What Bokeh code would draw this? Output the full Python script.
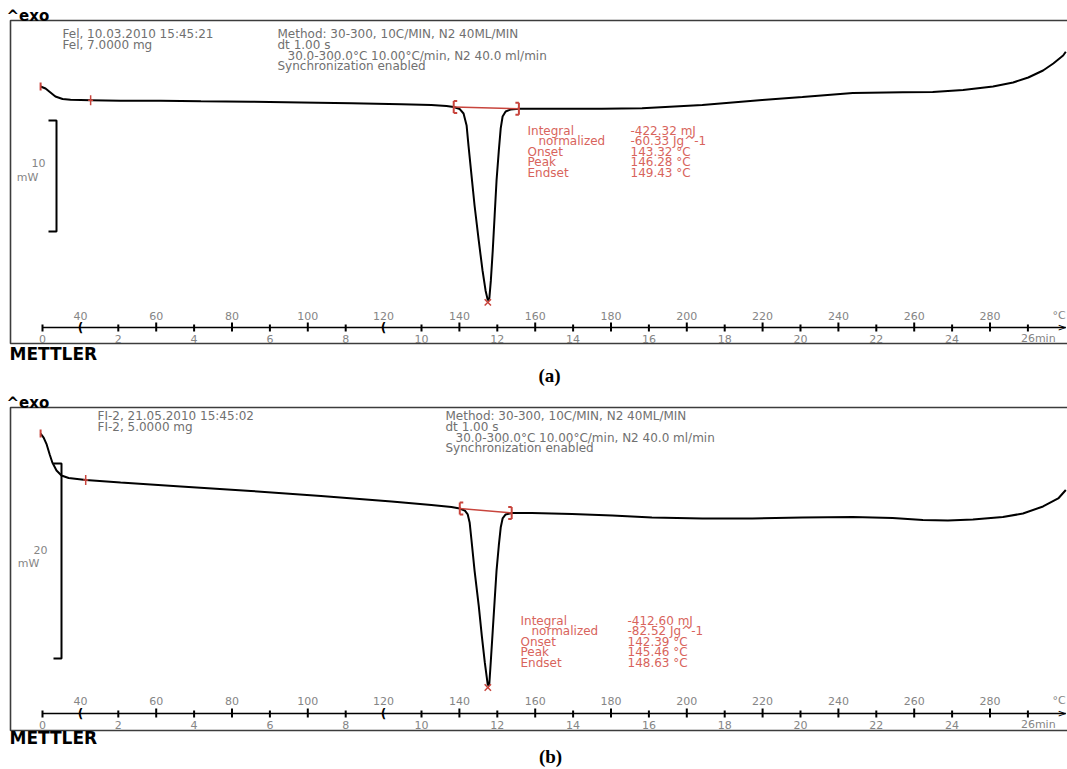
import numpy as np
from bokeh.plotting import figure
from bokeh.layouts import column
from bokeh.models import Range1d
from bokeh.core.properties import value
from bokeh.embed import file_html
from bokeh.resources import INLINE

# ---------------- data ----------------
# (a) Fel, 7.0000 mg : sample temperature (degC) vs heat flow (mW)
temp_a = [29.5, 30.8, 32.1, 33.4, 35.3, 37.4, 42.7, 50.6, 61.2, 71.8, 85.0, 98.3, 111.5, 124.7,
          132.6, 136.6, 138.5, 140.1, 141.1, 141.9, 142.4, 143.2, 144.0, 145.1, 146.1, 146.9,
          147.5, 147.9, 148.3, 148.8, 149.3, 149.8, 150.4, 150.9, 151.4, 152.2, 153.5, 155.7,
          167.0, 177.6, 188.2, 204.1, 219.9, 230.5, 243.8, 257.0, 264.9, 272.9, 280.8, 286.1,
          290.1, 294.0, 296.7, 299.3, 300.0]
hf_a = [0.27, 0.09, -0.27, -0.63, -0.86, -0.93, -0.96, -1.01, -1.01, -1.06, -1.10, -1.17, -1.24,
        -1.33, -1.40, -1.49, -1.58, -1.76, -2.16, -3.24, -5.05, -7.75, -10.45, -13.6, -16.3,
        -18.1, -19.0, -18.8, -17.2, -14.5, -11.35, -8.2, -5.5, -3.5, -2.43, -1.98, -1.80, -1.74,
        -1.74, -1.74, -1.69, -1.40, -0.95, -0.68, -0.32, -0.25, -0.23, -0.05, 0.27, 0.63, 1.08,
        1.71, 2.34, 3.06, 3.4]

# (b) FI-2, 5.0000 mg
temp_b = [29.5, 30.3, 31.1, 31.9, 32.6, 33.7, 35.0, 36.9, 41.4, 50.6, 66.5, 85.0, 103.5, 122.1,
          132.6, 137.9, 140.1, 141.4, 142.2, 142.7, 143.2, 144.0, 145.1, 145.9, 146.7, 147.5,
          147.9, 148.3, 148.8, 149.3, 149.8, 150.4, 150.9, 151.4, 152.2, 153.8, 159.1, 169.7,
          180.3, 190.8, 204.1, 217.3, 230.5, 243.8, 254.3, 262.3, 268.9, 275.5, 283.4, 288.7,
          294.0, 298.0, 300.0]
hf_b = [3.79, 3.38, 2.67, 1.64, 0.82, 0.0, -0.51, -0.77, -0.97, -1.23, -1.64, -2.10, -2.62, -3.18,
        -3.54, -3.74, -3.90, -4.10, -4.51, -5.33, -7.18, -10.26, -13.85, -16.92, -19.69, -22.05,
        -21.85, -19.49, -16.41, -13.33, -10.26, -7.69, -5.85, -4.92, -4.51, -4.36, -4.36, -4.46,
        -4.62, -4.82, -4.92, -4.92, -4.82, -4.77, -4.87, -5.08, -5.13, -5.03, -4.77, -4.41,
        -3.69, -2.87, -2.0]

start_a, plus_a, limits_a = 29.5, 42.7, [138.5, 155.7]
start_b, plus_b, limits_b = 29.5, 41.4, [140.1, 153.8]

header_left_a = ["Fel, 10.03.2010 15:45:21", "Fel, 7.0000 mg"]
header_left_b = ["FI-2, 21.05.2010 15:45:02", "FI-2, 5.0000 mg"]
header_method = ["Method: 30-300, 10C/MIN, N2 40ML/MIN", "dt 1.00 s",
                 "30.0-300.0°C 10.00°C/min, N2 40.0 ml/min", "Synchronization enabled"]

ann_labels = ["Integral", "normalized", "Onset", "Peak", "Endset"]
ann_values_a = ["-422.32 mJ", "-60.33 Jg^-1", "143.32 °C", "146.28 °C", "149.43 °C"]
ann_values_b = ["-412.60 mJ", "-82.52 Jg^-1", "142.39 °C", "145.46 °C", "148.63 °C"]

temp_ticks = [40, 60, 80, 100, 120, 140, 160, 180, 200, 220, 240, 260, 280]
time_ticks = [0, 2, 4, 6, 8, 10, 12, 14, 16, 18, 20, 22, 24, 26]
segment_marks = [40, 120]
scale_bar_a = 10
scale_bar_b = 20

# ---------------- layout ----------------
W = 1067
X0_PX, PX_PER_C = 42, 3.79
T_START, T_END, RATE = 30, 300, 10
RED = "#c8443c"
RED_TXT = "#d8645c"
GRAY_TXT = "#707070"
TICK_TXT = "#858585"
FONT = value("DejaVu Sans")


def tx(px):
    return T_START + (px - X0_PX) / PX_PER_C


LA = dict(top=0, height=388, y0=89, ppm=11.1, box_left=10, box_top=20, box_bottom=343,
          axis_y=327, temp_lbl_y=315, time_lbl_y=338, exo_y=15, header_y=33.5,
          hdr_left_x=62, hdr_right_x=277, bar_x=56, bar_top=120, bar_lbl=((38, 162), (27, 177)),
          ann_x=527, ann_val_x=630, ann_y=130, mettler_y=353, cap_x=549, cap_y=375, cap="(a)")
LB = dict(top=388, height=381, y0=470, ppm=9.75, box_left=10, box_top=407, box_bottom=730,
          axis_y=713, temp_lbl_y=700, time_lbl_y=724, exo_y=402, header_y=415.5,
          hdr_left_x=97, hdr_right_x=445, bar_x=61, bar_top=463, bar_lbl=((40, 549), (28, 563)),
          ann_x=520, ann_val_x=627, ann_y=620, mettler_y=737, cap_x=550, cap_y=756, cap="(b)")


def panel(temps, hf, start_t, plus_t, limits, hdr_left, ann_values, bar_mw, L):
    top, h, y0, ppm = L["top"], L["height"], L["y0"], L["ppm"]

    def ty(py):
        return (y0 - py) / ppm

    def dy(px):
        return px / ppm

    def dx(px):
        return px / PX_PER_C

    p = figure(width=W, height=h, x_range=Range1d(tx(0), tx(W)),
               y_range=Range1d(ty(top + h), ty(top)), x_axis_type=None, y_axis_type=None,
               toolbar_location=None, output_backend="svg", min_border=0,
               outline_line_color=None, background_fill_color="white",
               border_fill_color="white")
    p.grid.visible = False

    # frame box (open on the right)
    bl, br = tx(L["box_left"]), tx(W + 10)
    bt, bb = ty(L["box_top"]), ty(L["box_bottom"])
    p.line([br, bl, bl, br], [bt, bt, bb, bb], line_color="#3c3c3c", line_width=1.6)

    # built-in temperature / time axis
    ay = ty(L["axis_y"])
    p.line([T_START, T_END], [ay, ay], line_color="black", line_width=1.5)
    tt = [t for t in temp_ticks if t not in segment_marks]
    p.segment(x0=tt, y0=[ay + dy(5)] * len(tt), x1=tt, y1=[ay - dy(4)] * len(tt),
              line_color="black", line_width=2)
    tm = [T_START + RATE * m for m in time_ticks]
    p.segment(x0=tm, y0=[ay + dy(3)] * len(tm), x1=tm, y1=[ay - dy(4)] * len(tm),
              line_color="black", line_width=2)
    p.text(x=segment_marks, y=[ay] * len(segment_marks), text=["("] * len(segment_marks),
           text_font=FONT, text_font_size="12px", text_font_style="bold",
           text_align="center", text_baseline="middle", text_color="black")
    p.text(x=[T_END], y=[ay], text=[">"], text_font=FONT, text_font_size="11px",
           text_align="right", text_baseline="middle", text_color="black", x_offset=1)

    p.text(x=temp_ticks, y=[ty(L["temp_lbl_y"])] * len(temp_ticks),
           text=[str(t) for t in temp_ticks], text_font=FONT, text_font_size="11px",
           text_align="center", text_baseline="middle", text_color=TICK_TXT)
    p.text(x=[T_END], y=[ty(L["temp_lbl_y"])], text=["°C"], text_font=FONT,
           text_font_size="11px", text_align="right", text_baseline="middle",
           text_color=TICK_TXT, x_offset=0)
    tl = time_ticks[:-1]
    p.text(x=[T_START + RATE * m for m in tl], y=[ty(L["time_lbl_y"])] * len(tl),
           text=[str(m) for m in tl], text_font=FONT, text_font_size="11px",
           text_align="center", text_baseline="middle", text_color=TICK_TXT)
    p.text(x=[T_START + RATE * time_ticks[-1]], y=[ty(L["time_lbl_y"])],
           text=[f"{time_ticks[-1]}min"], text_font=FONT, text_font_size="11px",
           text_align="left", text_baseline="middle", text_color=TICK_TXT, x_offset=-7)

    # scale bar
    bx, bs = tx(L["bar_x"]), tx(L["bar_x"] - 8)
    btop = ty(L["bar_top"])
    bbot = btop - bar_mw
    p.line([bs, bx, bx, bs], [btop, btop, bbot, bbot], line_color="black", line_width=2)
    (lx1, ly1), (lx2, ly2) = L["bar_lbl"]
    p.text(x=[tx(lx1), tx(lx2)], y=[ty(ly1), ty(ly2)], text=[str(bar_mw), "mW"],
           text_font=FONT, text_font_size="11px", text_align="center",
           text_baseline="middle", text_color=TICK_TXT)

    # DSC curve
    p.line(temps, hf, line_color="black", line_width=2)

    # evaluation markers
    hs = float(np.interp(start_t, temps, hf))
    p.segment(x0=[start_t], y0=[hs - dy(4)], x1=[start_t], y1=[hs + dy(4)],
              line_color=RED, line_width=2)
    hp = float(np.interp(plus_t, temps, hf))
    p.segment(x0=[plus_t, plus_t - dx(2.5)], y0=[hp - dy(5), hp],
              x1=[plus_t, plus_t + dx(2.5)], y1=[hp + dy(5), hp],
              line_color=RED, line_width=1.5)
    hl = [float(v) for v in np.interp(limits, temps, hf)]
    p.line(limits, hl, line_color=RED, line_width=1.5)
    for lim, hv, sgn in zip(limits, hl, (1, -1)):
        p.segment(x0=[lim, lim, lim], y0=[hv - dy(6), hv + dy(6), hv - dy(6)],
                  x1=[lim, lim + sgn * dx(3.5), lim + sgn * dx(3.5)],
                  y1=[hv + dy(6), hv + dy(6), hv - dy(6)],
                  line_color=RED, line_width=2)
    i = int(np.argmin(hf))
    p.scatter([temps[i]], [hf[i] - dy(2)], marker="x", size=9, line_color=RED, line_width=1.5)

    # evaluation results
    n = len(ann_labels)
    ys = [ty(L["ann_y"] + 10.6 * k) for k in range(n)]
    p.text(x=[tx(L["ann_x"])] * n, y=ys, text=ann_labels, x_offset=[0, 11, 0, 0, 0],
           text_font=FONT, text_font_size="12px", text_align="left",
           text_baseline="middle", text_color=RED_TXT)
    p.text(x=[tx(L["ann_val_x"])] * n, y=ys, text=ann_values, text_font=FONT,
           text_font_size="12px", text_align="left", text_baseline="middle",
           text_color=RED_TXT)

    # header texts
    hy = [ty(L["header_y"] + 10.8 * k) for k in range(len(header_method))]
    p.text(x=[tx(L["hdr_left_x"])] * len(hdr_left), y=hy[:len(hdr_left)], text=hdr_left,
           text_font=FONT, text_font_size="12px", text_align="left",
           text_baseline="middle", text_color=GRAY_TXT)
    p.text(x=[tx(L["hdr_right_x"])] * len(header_method), y=hy, text=header_method,
           x_offset=[0, 0, 10, 0], text_font=FONT, text_font_size="12px",
           text_align="left", text_baseline="middle", text_color=GRAY_TXT)

    # labels outside the box
    p.text(x=[tx(6)], y=[ty(L["exo_y"])], text=["^exo"], text_font=FONT,
           text_font_size="15px", text_font_style="bold", text_align="left",
           text_baseline="alphabetic", text_color="black")
    p.text(x=[tx(9)], y=[ty(L["mettler_y"])], text=["METTLER"], text_font=FONT,
           text_font_size="17px", text_font_style="bold", text_align="left",
           text_baseline="middle", text_color="black")
    p.text(x=[tx(L["cap_x"])], y=[ty(L["cap_y"])], text=[L["cap"]],
           text_font=value("Liberation Serif"), text_font_size="19px",
           text_font_style="bold", text_align="center", text_baseline="middle",
           text_color="black")
    return p


pa = panel(temp_a, hf_a, start_a, plus_a, limits_a, header_left_a, ann_values_a, scale_bar_a, LA)
pb = panel(temp_b, hf_b, start_b, plus_b, limits_b, header_left_b, ann_values_b, scale_bar_b, LB)

layout = column(pa, pb, spacing=0)
open("out.html", "w").write(file_html(layout, INLINE))
